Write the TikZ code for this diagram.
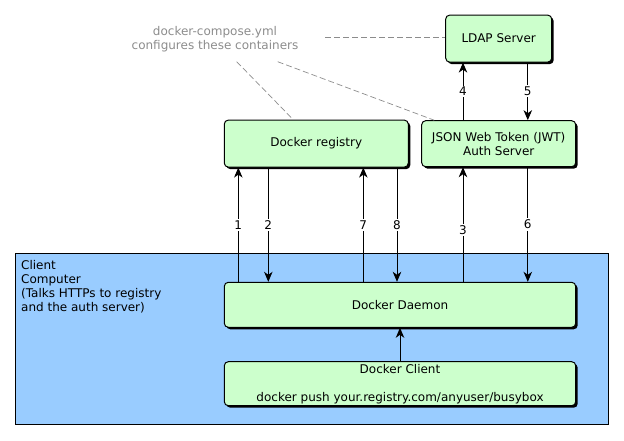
\documentclass[tikz,border=0pt]{standalone}
\usepackage{fontspec}
\setmainfont{DejaVu Sans}
\usetikzlibrary{arrows.meta,shadows,calc}
\definecolor{boxgreen}{HTML}{CCFFCC}
\definecolor{clientblue}{HTML}{99CCFF}
\definecolor{notegray}{HTML}{8C8C8C}
\tikzset{
  server/.style={draw, line width=1pt, fill=boxgreen, rounded corners=4pt, align=center, inner sep=0pt,
    drop shadow={shadow xshift=2pt, shadow yshift=-2pt, opacity=1, fill=black}},
  flow/.style={line width=1pt, -{Stealth[length=10pt,width=8.5pt,inset=3pt]}},
  num/.style={fill=white, inner sep=1.5pt},
  note/.style={notegray, dash pattern=on 6pt off 3pt, line width=0.7pt}
}
\begin{document}
\begin{tikzpicture}[x=1pt, y=-1pt, font=\fontsize{12}{14}\selectfont]
\useasboundingbox (0,0) rectangle (624,440);
% servers
\node[server, minimum width=106pt, minimum height=47pt] (ldap) at (498.7,38.6) {LDAP Server};
\node[server, minimum width=184pt, minimum height=47pt] (registry) at (316.3,143.6) {Docker registry};
\node[server, minimum width=154pt, minimum height=46pt] (jwt) at (498.7,143.7) {JSON Web Token (JWT)\\Auth Server};
% client computer
\node[draw, fill=clientblue, line width=1pt, minimum width=593.5pt, minimum height=170.5pt, inner sep=0pt] (computer) at (311.8,338.8) {};
\node[anchor=north west, align=left, inner sep=0pt] (computertext) at (21,260) {Client\\Computer\\(Talks HTTPs to registry\\and the auth server)};
\node[server, minimum width=351.4pt, minimum height=45pt] (daemon) at (400,304.8) {Docker Daemon};
\node[server, minimum width=351.4pt, minimum height=44pt] (client) at (400,383.7) {Docker Client\\[14pt]docker push your.registry.com/anyuser/busybox};
% compose note
\node[text=notegray, align=center] (compose) at (215,39) {docker-compose.yml\\configures these containers};
\coordinate (n1) at (325,37.3);
\coordinate (n2) at (236.7,61.7);
\coordinate (n3) at (277.7,61.7);
\draw[note] (n1) -- (n1 -| ldap.west);
\draw[note] (n2) -- ($(registry.north west)!0.375!(registry.north east)$);
\draw[note] (n3) -- ([xshift=13pt]jwt.north west);
% requests
\foreach \x/\n in {238.3/1, 363.3/7}{
  \coordinate (col\n) at (\x,0);
  \draw[flow] (daemon.north -| col\n) -- node[num] {\n} (registry.south -| col\n);
}
\foreach \x/\n in {268.3/2, 397/8}{
  \coordinate (col\n) at (\x,0);
  \draw[flow] (registry.south -| col\n) -- node[num] {\n} (daemon.north -| col\n);
}
\coordinate (col3) at (463,0);
\coordinate (col6) at (527.8,0);
\draw[flow] (daemon.north -| col3) -- node[num, pos=.45] {3} (jwt.south -| col3);
\draw[flow] (jwt.south -| col6) -- node[num] {6} (daemon.north -| col6);
\draw[flow] (jwt.north -| col3) -- node[num] {4} (ldap.south -| col3);
\draw[flow] (ldap.south -| col6) -- node[num] {5} (jwt.north -| col6);
\draw[flow] (client.north) -- (daemon.south);
\end{tikzpicture}
\end{document}
